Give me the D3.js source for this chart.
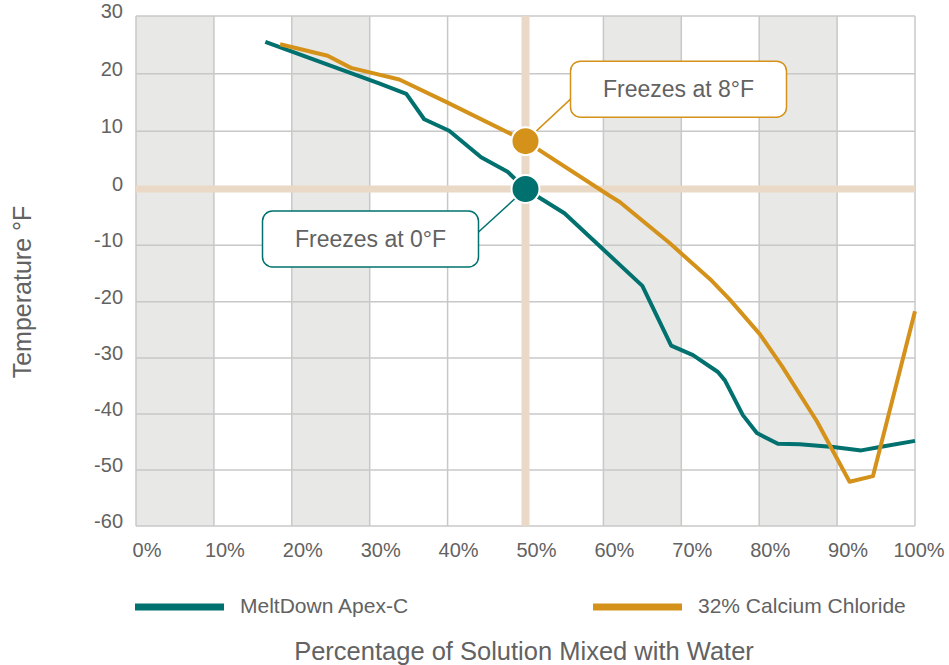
<!DOCTYPE html>
<html>
<head>
<meta charset="utf-8">
<script src="https://cdn.jsdelivr.net/npm/d3@7"></script>
<style>
  body { margin: 0; background: #fff; }
  svg text { font-family: "Helvetica Neue", Helvetica, "Liberation Sans", Arial, sans-serif; fill: #626262; }
</style>
</head>
<body>
<svg id="chart" width="949" height="665"></svg>
<script>
/*** Data ***/
var xTicks = [0, 10, 20, 30, 40, 50, 60, 70, 80, 90, 100];
var yTicks = [30, 20, 10, 0, -10, -20, -30, -40, -50, -60];
var shadedBands = [[0, 10], [20, 30], [60, 70], [80, 90]];

var apexPct  = [16.6, 31.2, 34.7, 37.0, 40.2, 44.3, 47.7, 50, 55.0, 65.0, 68.7, 71.5, 74.7, 75.6, 77.9, 79.7, 82.4, 85.2, 89.5, 93.1, 95.5, 100];
var apexTemp = [25.5, 18.3, 16.5, 12.1, 10.1, 5.5, 3.0, 0, -4.3, -17.2, -27.8, -29.5, -32.5, -34.0, -40.2, -43.4, -45.3, -45.4, -45.9, -46.5, -45.9, -44.8];

var calcPct  = [18.5, 24.6, 27.6, 33.8, 39.8, 50, 60.8, 62.1, 68.5, 73.7, 76.2, 80.1, 82.9, 87.4, 91.6, 94.6, 100];
var calcTemp = [25.1, 23.1, 21.0, 19.0, 15.1, 8.3, -1.2, -2.3, -9.6, -16.0, -19.6, -25.8, -31.4, -41.3, -52.1, -51.1, -21.7];

var seriesNames = ["MeltDown Apex-C", "32% Calcium Chloride"];
var seriesColors = ["#00716f", "#d4921a"];

var callouts = [
  {label: "Freezes at 8°F", pct: 50, temp: 8.3, series: 1},
  {label: "Freezes at 0°F", pct: 50, temp: 0, series: 0}
];

/*** Chart ***/
var svg = d3.select("#chart");
var plot = {left: 136, right: 915, top: 16, bottom: 526};

var x = d3.scaleLinear().domain([0, 100]).range([plot.left, plot.right]);
// the source grid is not quite even, so pin a few gridlines
var y = d3.scaleLinear().domain([-60, -30, 0, 30]).range([plot.bottom, 358, 189, plot.top]);

var g = svg.append("g");

// background bands
g.append("g").selectAll("rect").data(shadedBands).enter()
  .append("rect")
    .attr("x", d => x(d[0]))
    .attr("width", d => x(d[1]) - x(d[0]))
    .attr("y", plot.top)
    .attr("height", plot.bottom - plot.top)
    .attr("fill", "#e8e8e6");

// gridlines
g.append("g").selectAll("line").data(xTicks).enter()
  .append("line")
    .attr("x1", d => x(d)).attr("x2", d => x(d))
    .attr("y1", plot.top).attr("y2", plot.bottom)
    .attr("stroke", "#c8c8c8").attr("stroke-width", 1.5);
g.append("g").selectAll("line").data(yTicks).enter()
  .append("line")
    .attr("x1", plot.left).attr("x2", plot.right)
    .attr("y1", d => y(d)).attr("y2", d => y(d))
    .attr("stroke", "#c8c8c8").attr("stroke-width", 1.5);

// highlight cross at 50% / 0°F
g.append("line")
  .attr("x1", x(50)).attr("x2", x(50))
  .attr("y1", plot.top).attr("y2", plot.bottom)
  .attr("stroke", "#ead9c6").attr("stroke-width", 8);
g.append("line")
  .attr("x1", plot.left).attr("x2", plot.right)
  .attr("y1", y(0)).attr("y2", y(0))
  .attr("stroke", "#ead9c6").attr("stroke-width", 7);

// axis labels
svg.append("g").selectAll("text").data(yTicks).enter()
  .append("text")
    .attr("x", 123)
    .attr("y", d => y(d) - 5)
    .attr("dy", "0.35em")
    .attr("text-anchor", "end")
    .attr("font-size", "20px")
    .text(d => d);

svg.append("g").selectAll("text").data(xTicks).enter()
  .append("text")
    .attr("x", d => Math.min(x(d) + 11, 919))
    .attr("y", 557)
    .attr("text-anchor", "middle")
    .attr("font-size", "20px")
    .text(d => d + "%");

svg.append("text")
  .attr("transform", "translate(31,292) rotate(-90)")
  .attr("text-anchor", "middle")
  .attr("font-size", "25px")
  .text("Temperature °F");

svg.append("text")
  .attr("x", 524).attr("y", 660)
  .attr("text-anchor", "middle")
  .attr("font-size", "25.5px")
  .text("Percentage of Solution Mixed with Water");

// series lines
var line = d3.line().x(d => x(d[0])).y(d => y(d[1]));
var seriesData = [d3.zip(apexPct, apexTemp), d3.zip(calcPct, calcTemp)];

g.append("g").selectAll("path").data(seriesData).enter()
  .append("path")
    .attr("d", line)
    .attr("fill", "none")
    .attr("stroke", (d, i) => seriesColors[i])
    .attr("stroke-width", 4)
    .attr("stroke-linejoin", "round");

// callouts
var boxW = 216, boxH = 56;
callouts.forEach(c => {
  var cx = x(c.pct), cy = y(c.temp), col = seriesColors[c.series];
  var bx, by, lx, ly;
  if (c.series === 1) {
    bx = cx + 45; by = cy - 80; lx = bx; ly = by + 38;
  } else {
    bx = cx - 47 - boxW; by = cy + 22; lx = bx + boxW; ly = by + 21;
  }
  g.append("line")
    .attr("x1", cx).attr("y1", cy).attr("x2", lx).attr("y2", ly)
    .attr("stroke", col).attr("stroke-width", 1.5);
  g.append("circle")
    .attr("cx", cx).attr("cy", cy).attr("r", 14)
    .attr("fill", col).attr("stroke", "#fff").attr("stroke-width", 2);
  g.append("rect")
    .attr("x", bx).attr("y", by).attr("width", boxW).attr("height", boxH)
    .attr("rx", 10).attr("ry", 10)
    .attr("fill", "#fff").attr("stroke", col).attr("stroke-width", 1.5);
  g.append("text")
    .attr("x", bx + boxW / 2).attr("y", by + boxH / 2)
    .attr("dy", "0.35em")
    .attr("text-anchor", "middle")
    .attr("font-size", "23px")
    .attr("font-weight", 300)
    .text(c.label);
});

// legend
var legendX = [135, 593];
var legend = svg.append("g").selectAll("g").data(seriesNames).enter()
  .append("g").attr("transform", (d, i) => "translate(" + legendX[i] + ",607)");
legend.append("line")
  .attr("x1", 0).attr("x2", 89)
  .attr("stroke", (d, i) => seriesColors[i])
  .attr("stroke-width", 7);
legend.append("text")
  .attr("x", 105).attr("y", 6)
  .attr("font-size", "21px")
  .text(d => d);
</script>
</body>
</html>
